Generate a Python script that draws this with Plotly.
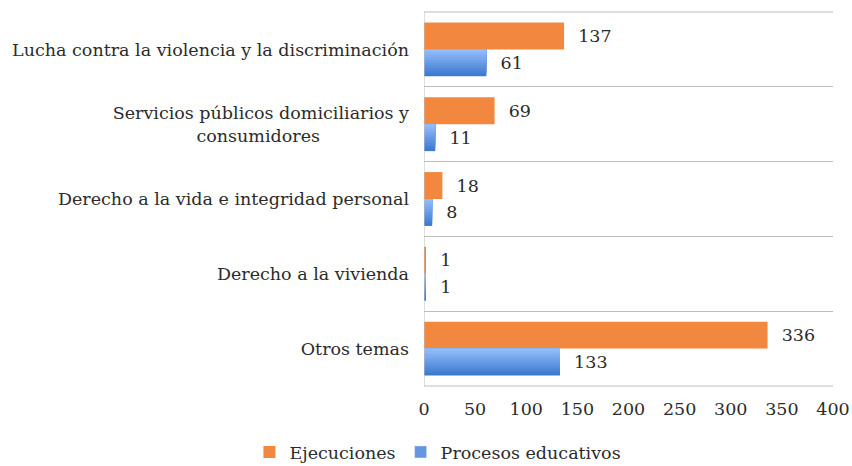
import plotly.graph_objects as go

categories = [
    "Lucha contra la violencia y la discriminación",
    "Servicios públicos domiciliarios y<br>consumidores" + "\u00a0" * 16,
    "Derecho a la vida e integridad personal",
    "Derecho a la vivienda",
    "Otros temas",
]
ejecuciones = [137, 69, 18, 1, 336]
procesos = [61, 11, 8, 1, 133]
series_names = ["Ejecuciones", "Procesos educativos"]
x_ticks = [0, 50, 100, 150, 200, 250, 300, 350, 400]

FONT = "DejaVu Serif"
FS = 17.5
TXT = "#2b2b2b"
ORANGE = "#F2883F"
GRID = "#BDBDBD"
BAR_W = 0.36

fig = go.Figure()

fig.add_trace(go.Bar(
    y=categories, x=ejecuciones, orientation="h", name=series_names[0],
    marker=dict(color=ORANGE, line=dict(width=0)),
    width=BAR_W, offset=-BAR_W,
    text=["\u00a0\u00a0" + str(v) for v in ejecuciones], textposition="outside",
    textfont=dict(family=FONT, size=FS, color=TXT), cliponaxis=False,
))

# blue gradient: dark full bar, then lighter bars covering top portions
dark = (62, 122, 208)
light = (146, 188, 248)
N = 10
for k in range(N):
    t = k / (N - 1)
    c = tuple(round(dark[i] + (light[i] - dark[i]) * t) for i in range(3))
    frac = (N - k) / N
    first = k == 0
    fig.add_trace(go.Bar(
        y=categories, x=procesos, orientation="h", name=series_names[1],
        marker=dict(color="rgb(%d,%d,%d)" % c, line=dict(width=0)),
        width=BAR_W * frac, offset=0,
        text=["\u00a0\u00a0" + str(v) for v in procesos] if first else None,
        textposition="outside" if first else "none",
        textfont=dict(family=FONT, size=FS, color=TXT), cliponaxis=False,
        showlegend=False, legendgroup="p",
    ))

# legend entry for blue
fig.add_trace(go.Bar(
    y=[categories[0]], x=[None], orientation="h", name=series_names[1],
    marker=dict(color="rgb(100,150,225)"), legendgroup="p", showlegend=True,
))

fig.update_layout(
    barmode="overlay",
    width=852, height=466,
    margin=dict(l=424, r=19, t=12, b=80, autoexpand=False),
    paper_bgcolor="white", plot_bgcolor="white",
    font=dict(family=FONT, size=FS, color=TXT),
    showlegend=True,
    legend=dict(orientation="h", xref="container", yref="container",
                x=0.514, xanchor="center", y=0.03, yanchor="middle",
                font=dict(family=FONT, size=FS, color=TXT), traceorder="normal",
                itemwidth=30),
    xaxis=dict(range=[0, 400], tickvals=x_ticks, showgrid=False, zeroline=False,
               showline=False, ticks="", ticklabelstandoff=10,
               tickfont=dict(family=FONT, size=FS, color=TXT)),
    yaxis=dict(autorange="reversed", type="category", tickson="boundaries",
               showgrid=True, gridcolor=GRID, gridwidth=1, ticks="",
               showline=False, ticklabelstandoff=14,
               tickfont=dict(family=FONT, size=FS, color=TXT)),
    shapes=[
        dict(type="line", xref="x", yref="paper", x0=0, x1=0, y0=0, y1=1,
             line=dict(color=GRID, width=1)),
        dict(type="line", xref="paper", yref="paper", x0=0, x1=1, y0=1, y1=1,
             line=dict(color=GRID, width=1)),
        dict(type="line", xref="paper", yref="paper", x0=0, x1=1, y0=0, y1=0,
             line=dict(color=GRID, width=1)),
    ],
)

fig.write_html("out.html")
